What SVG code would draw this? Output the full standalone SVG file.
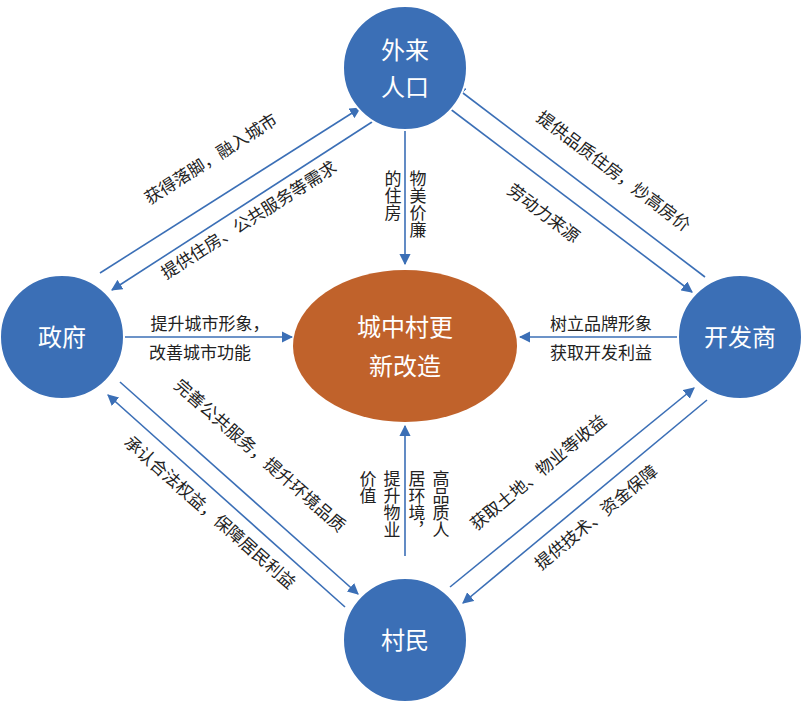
<svg xmlns="http://www.w3.org/2000/svg" width="810" height="709" viewBox="0 0 810 709">
<style>
.c{fill:#3b6fb6;stroke:#fff;stroke-width:2}
.ct{fill:#fff;font-family:"Noto Sans CJK SC",sans-serif;font-size:24px;text-anchor:middle}
.l{stroke:#3b6fb6;stroke-width:1.6;fill:none;marker-end:url(#a)}
.t{fill:#222;font-family:"Noto Sans CJK SC",sans-serif;font-size:17px;text-anchor:middle}
.v{fill:#222;font-family:"Noto Sans CJK SC",sans-serif;font-size:17px;writing-mode:vertical-rl;text-anchor:start}
</style>
<defs><marker id="a" viewBox="0 0 10 10" refX="9" refY="5" markerWidth="7" markerHeight="7" orient="auto"><path d="M0,0L10,5L0,10z" fill="#3b6fb6"/></marker></defs>
<rect width="810" height="709" fill="#fff"/>
<g id="connectors">
<line class="l" x1="100" y1="273" x2="360" y2="108"/>
<line class="l" x1="372" y1="122" x2="112" y2="290"/>
<line class="l" x1="705" y1="277" x2="455" y2="87"/>
<line class="l" x1="445" y1="105" x2="692" y2="292"/>
<line class="l" x1="120" y1="382" x2="358" y2="594"/>
<line class="l" x1="345" y1="607" x2="108" y2="395"/>
<line class="l" x1="450" y1="587" x2="694" y2="388"/>
<line class="l" x1="707" y1="400" x2="463" y2="603"/>
<line class="l" x1="122" y1="337" x2="292" y2="337"/>
<line class="l" x1="680" y1="337" x2="520" y2="337"/>
<line class="l" x1="405" y1="128" x2="405" y2="264"/>
<line class="l" x1="405" y1="556" x2="405" y2="426"/>
</g>
<g id="labels">
<text class="t" transform="translate(214,164) rotate(-32.4)">获得落脚，融入城市</text>
<text class="t" transform="translate(252,225) rotate(-32.4)">提供住房、公共服务等需求</text>
<text class="t" transform="translate(610,176) rotate(37)">提供品质住房，炒高房价</text>
<text class="t" transform="translate(540,218) rotate(37)">劳动力来源</text>
<text class="t" transform="translate(256,460) rotate(41.4)">完善公共服务，提升环境品质</text>
<text class="t" transform="translate(206,517) rotate(41.4)">承认合法权益，保障居民利益</text>
<text class="t" transform="translate(542,477) rotate(-39.5)">获取土地、物业等收益</text>
<text class="t" transform="translate(600,522) rotate(-39.5)">提供技术、资金保障</text>
<text class="t" x="210" y="330">提升城市形象，</text>
<text class="t" x="200" y="359">改善城市功能</text>
<text class="t" x="601" y="330">树立品牌形象</text>
<text class="t" x="601" y="359">获取开发利益</text>
<text class="v" x="418" y="170">物美价廉</text>
<text class="v" x="393" y="170">的住房</text>
<text class="v" x="441" y="470">高品质人</text>
<text class="v" x="417" y="470">居环境，</text>
<text class="v" x="392" y="470">提升物业</text>
<text class="v" x="368" y="470">价值</text>
</g>
<g id="center"><ellipse cx="405" cy="346" rx="112" ry="76" fill="#c0622b"/><text class="ct" x="405" y="336">城中村更</text><text class="ct" x="405" y="375">新改造</text></g>
<g id="n1"><circle class="c" cx="405" cy="68" r="62"/><text class="ct" x="405" y="59">外来</text><text class="ct" x="405" y="96">人口</text></g>
<g id="n2"><circle class="c" cx="62" cy="337" r="62"/><text class="ct" x="62" y="346">政府</text></g>
<g id="n3"><circle class="c" cx="740" cy="337" r="62"/><text class="ct" x="740" y="346">开发商</text></g>
<g id="n4"><circle class="c" cx="405" cy="640" r="62"/><text class="ct" x="405" y="649">村民</text></g>
</svg>
